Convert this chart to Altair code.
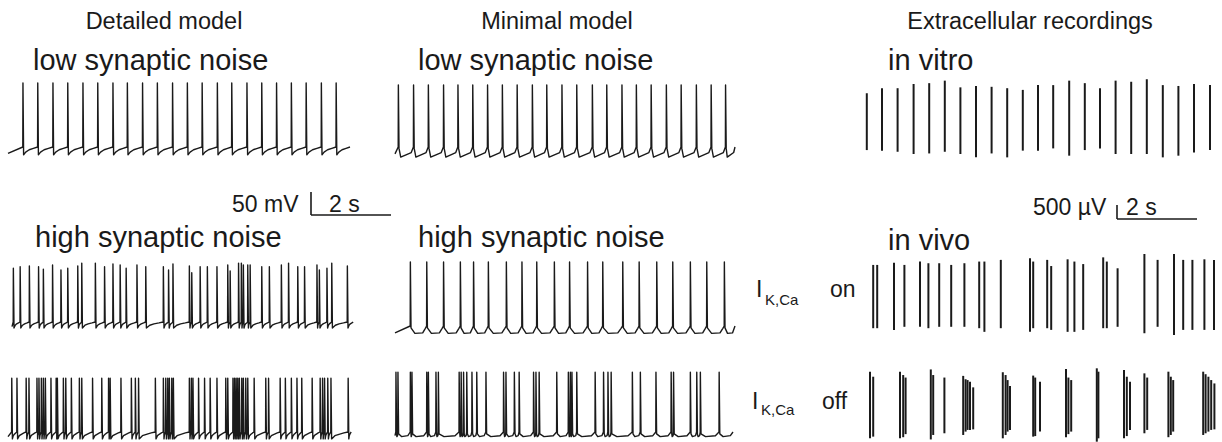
import altair as alt
import pandas as pd

W, H = 1222, 442
PX_PER_S = 40.0      # horizontal gain: 2 s bar = 80 px
PX_PER_MV = 0.46     # intracellular gain: 50 mV bar = 23 px
PX_PER_UV = 0.028    # extracellular gain: 500 uV bar = 14 px
INK = "#1a1a1a"
FONT = "Liberation Sans"

# ---------------- spike times (s from sweep start) and amplitudes ----------------
det_low_times = [0.37, 0.74, 1.12, 1.49, 1.87, 2.24, 2.62, 2.98, 3.36, 3.73, 4.11,
                 4.48, 4.85, 5.23, 5.59, 5.97, 6.34, 6.71, 7.08, 7.45, 7.83, 8.20]
min_low_times = [0.08, 0.46, 0.83, 1.21, 1.57, 1.94, 2.31, 2.68, 3.05, 3.43, 3.79, 4.17,
                 4.54, 4.93, 5.29, 5.67, 6.03, 6.40, 6.78, 7.15, 7.53, 7.90, 8.26]
det_high_times = [0.13, 0.30, 0.53, 0.76, 0.88, 1.11, 1.32, 1.49, 1.74, 1.84, 2.18, 2.41,
                  2.62, 2.80, 2.95, 3.22, 3.44, 3.88, 4.01, 4.12, 4.53, 4.59, 4.80, 4.98,
                  5.22, 5.49, 5.55, 5.76, 5.83, 5.88, 5.99, 6.05, 6.34, 6.53, 6.83, 7.01,
                  7.24, 7.41, 7.72, 7.78, 7.97, 8.09, 8.48]
det_high_peaks = [117, 120, 122, 120, 115, 124, 113, 117, 122, 128, 128, 120, 126, 124,
                  117, 124, 120, 120, 113, 126, 122, 107, 120, 120, 120, 124, 111, 128,
                  128, 124, 124, 124, 120, 120, 124, 128, 120, 120, 124, 113, 117, 128, 122]
min_high_times = [0.38, 0.79, 1.21, 1.63, 1.96, 2.33, 2.78, 3.17, 3.54, 3.98, 4.36, 4.81,
                  5.19, 5.69, 6.10, 6.54, 6.94, 7.38, 7.79, 8.23]
det_off_times = [0.09, 0.22, 0.45, 0.52, 0.72, 0.77, 0.83, 0.88, 0.93, 1.07, 1.20, 1.23,
                 1.38, 1.44, 1.58, 1.78, 1.84, 2.11, 2.34, 2.51, 2.55, 2.82, 3.08, 3.18,
                 3.26, 3.68, 3.88, 3.94, 3.99, 4.03, 4.09, 4.13, 4.53, 4.58, 4.62, 4.76,
                 4.91, 5.05, 5.22, 5.44, 5.49, 5.62, 5.66, 5.70, 5.74, 5.78, 5.84, 5.88,
                 5.94, 5.99, 6.15, 6.44, 6.51, 6.80, 6.93, 7.08, 7.22, 7.34, 7.60, 7.80,
                 7.86, 7.91, 7.99, 8.07, 8.50]
min_off_times = [0.02, 0.07, 0.38, 0.42, 0.79, 0.83, 1.02, 1.08, 1.60, 1.65, 1.71, 1.79,
                 1.92, 2.04, 2.27, 2.71, 2.77, 2.98, 3.10, 3.46, 3.52, 3.60, 4.04, 4.33,
                 4.38, 4.42, 4.54, 5.00, 5.21, 5.32, 5.40, 5.93, 6.13, 6.52, 6.90, 6.96,
                 7.38, 7.54, 7.63, 8.10]

vitro_times = [0.02, 0.40, 0.79, 1.19, 1.58, 1.97, 2.36, 2.75, 3.14, 3.53, 3.92, 4.30,
               4.68, 5.08, 5.47, 5.85, 6.24, 6.63, 7.02, 7.42, 7.81, 8.20, 8.60]
vitro_top = [920, 1100, 1100, 1250, 1280, 1370, 1130, 1180, 1150, 1100, 1040, 1210,
             1210, 1370, 1280, 1100, 1370, 1330, 1420, 1210, 1180, 1250, 1210]
vitro_bottom = [-1110, -1130, -1170, -1250, -1230, -1170, -1250, -1370, -1230, -1370,
                -1130, -1130, -1050, -1310, -1110, -1050, -1250, -1250, -1250, -1370,
                -1310, -1200, -1110]

vivo_on_times = [0.18, 0.28, 0.70, 0.96, 1.35, 1.56, 1.83, 2.13, 2.46, 2.83, 2.96, 3.37,
                 4.10, 4.18, 4.53, 4.63, 5.04, 5.21, 5.43, 5.93, 6.02, 6.29, 6.96, 7.29,
                 7.70, 7.93, 8.16, 8.46, 8.70]
vivo_on_top = [1110, 1110, 1190, 1110, 1230, 1170, 1170, 1110, 1170, 1230, 1230, 1290,
               1350, 1230, 1290, 1070, 1310, 1230, 1140, 1380, 1230, 990, 1500, 1290,
               1500, 1290, 1290, 1310, 1290]
vivo_on_bottom = [-1150, -1150, -1210, -1100, -1100, -1150, -1100, -1100, -1100, -1150,
                  -1280, -1150, -1280, -1150, -1150, -1210, -1280, -1280, -1210, -1150,
                  -1150, -1100, -1330, -1100, -1390, -1210, -1210, -1210, -1210]

vivo_off_times = [0.10, 0.18, 0.85, 0.93, 0.99, 1.62, 1.68, 1.96, 2.43, 2.49, 2.54, 2.60,
                  2.68, 3.42, 3.49, 3.54, 3.60, 4.18, 4.23, 4.35, 5.00, 5.06, 5.13, 5.77,
                  5.81, 6.45, 6.52, 6.60, 6.96, 7.03, 7.56, 7.62, 7.68, 8.43, 8.49, 8.56,
                  8.63, 8.71]
vivo_off_top = [1190, 1010, 1190, 1070, 980, 1270, 1070, 980, 1040, 920, 890, 830, 630,
                1170, 1070, 890, 680, 1050, 980, 830, 1290, 980, 890, 1310, 1190, 1250,
                1010, 830, 1130, 980, 1190, 1010, 890, 1190, 1100, 1010, 890, 770]
vivo_off_bottom = [-1190, -1130, -1190, -1150, -1040, -1230, -1070, -1010, -1070, -950,
                   -890, -890, -870, -1190, -1070, -950, -890, -1130, -1110, -950, -1150,
                   -1040, -950, -1310, -1190, -1190, -1110, -890, -1010, -890, -1150,
                   -1070, -950, -1070, -1010, -950, -890, -870]

# ---------------- layout (pixels) ----------------
COL_X = {"detailed": 8, "minimal": 395, "extracellular": 866}

# inter-spike trajectories: (fraction of the interval, mV relative to threshold)
DET_LOW_ISI = [(0.0, -17), (0.15, -11), (0.4, -6), (0.7, -3), (1.0, 0)]
DET_HIGH_ISI = [(0.0, -13), (0.2, -7), (0.45, -4), (0.75, -2), (1.0, 0)]
DET_OFF_ISI = [(0.0, -15), (0.2, -8), (0.45, -5), (0.75, -2), (1.0, 0)]
MIN_LOW_ISI = [(0.0, -3), (0.12, -22), (0.85, -12), (1.0, 0)]
MIN_HIGH_ISI = [(0.0, -4), (0.25, -16), (0.75, -15), (0.92, -5), (1.0, 0)]
MIN_OFF_ISI = [(0.0, -4), (0.25, -10), (0.8, -8), (1.0, 0)]

intra_sweeps = [
    # name, column, threshold row (px), times, peak(s) mV, start s, end s, start mV, ISI shape
    ("det_low", "detailed", 147, det_low_times, 139, 0.0, 8.55, -14, DET_LOW_ISI),
    ("min_low", "minimal", 147, min_low_times, 135, 0.0, 8.50, -15, MIN_LOW_ISI),
    ("det_high", "detailed", 322, det_high_times, det_high_peaks, 0.1, 8.63, -10, DET_HIGH_ISI),
    ("min_high", "minimal", 326, min_high_times, 139, 0.0, 8.50, -15, MIN_HIGH_ISI),
    ("det_off", "detailed", 432, det_off_times, 117, 0.0, 8.58, -10, DET_OFF_ISI),
    ("min_off", "minimal", 432, min_off_times, 130, 0.0, 8.45, -8, MIN_OFF_ISI),
]

extra_sweeps = [
    ("in_vitro", 119, vitro_times, vitro_top, vitro_bottom),
    ("in_vivo_on", 296, vivo_on_times, vivo_on_top, vivo_on_bottom),
    ("in_vivo_off", 405, vivo_off_times, vivo_off_top, vivo_off_bottom),
]


def sweep_points(times, peaks, start, end, start_level, isi, spike_w=0.02):
    pts = [(start, start_level)]
    for i, t in enumerate(times):
        peak = peaks[i] if isinstance(peaks, list) else peaks
        nxt = times[i + 1] if i + 1 < len(times) else end
        pts.append((t, 0.0))
        pts.append((t + 0.004, peak))
        a = min(t + spike_w, nxt)
        span = nxt - a
        for f, lvl in isi:
            pts.append((a + f * span, lvl))
    return pts


rows = []
for name, col, row_px, times, peaks, t0, t1, lvl0, isi in intra_sweeps:
    t_off = COL_X[col] / PX_PER_S
    v_off = (H - row_px) / PX_PER_MV
    for k, (t, v) in enumerate(sweep_points(times, peaks, t0, t1, lvl0, isi)):
        rows.append({"trace": name, "k": k, "t": t_off + t, "v": v_off + v})
intra_df = pd.DataFrame(rows)

rows = []
for name, row_px, times, top, bottom in extra_sweeps:
    t_off = COL_X["extracellular"] / PX_PER_S
    u_off = (H - row_px) / PX_PER_UV
    for t, a, b in zip(times, top, bottom):
        rows.append({"trace": name, "t": t_off + t, "u": u_off + a, "u2": u_off + b})
extra_df = pd.DataFrame(rows)

# scale bars: corner anchor in pixels, then 50 mV / 500 uV and 2 s
mv_bar_x, mv_bar_y = 311, 215
uv_bar_x, uv_bar_y = 1117, 219
bt, bv = mv_bar_x / PX_PER_S, (H - mv_bar_y) / PX_PER_MV
mv_bar = pd.DataFrame({"t": [bt, bt], "t2": [bt, bt + 2], "v": [bv, bv], "v2": [bv + 50, bv]})
ut, uu = uv_bar_x / PX_PER_S, (H - uv_bar_y) / PX_PER_UV
uv_bar = pd.DataFrame({"t": [ut, ut], "t2": [ut, ut + 2], "u": [uu, uu], "u2": [uu + 500, uu]})

x_scale = alt.Scale(domain=[0, W / PX_PER_S], nice=False, zero=False)
mv_scale = alt.Scale(domain=[0, H / PX_PER_MV], nice=False, zero=False)
uv_scale = alt.Scale(domain=[0, H / PX_PER_UV], nice=False, zero=False)

traces = alt.Chart(intra_df).mark_line(color=INK, strokeWidth=1.4, strokeJoin="round").encode(
    x=alt.X("t:Q", scale=x_scale, axis=None),
    y=alt.Y("v:Q", scale=mv_scale, axis=None),
    detail="trace:N",
    order="k:Q",
)
mv_bar_mark = alt.Chart(mv_bar).mark_rule(color=INK, strokeWidth=1.6).encode(
    x=alt.X("t:Q", scale=x_scale, axis=None), x2="t2:Q",
    y=alt.Y("v:Q", scale=mv_scale, axis=None), y2="v2:Q",
)
intra_layer = alt.layer(traces, mv_bar_mark)

units = alt.Chart(extra_df).mark_rule(color=INK, strokeWidth=2.0).encode(
    x=alt.X("t:Q", scale=x_scale, axis=None),
    y=alt.Y("u:Q", scale=uv_scale, axis=None), y2="u2:Q",
)
uv_bar_mark = alt.Chart(uv_bar).mark_rule(color=INK, strokeWidth=1.6).encode(
    x=alt.X("t:Q", scale=x_scale, axis=None), x2="t2:Q",
    y=alt.Y("u:Q", scale=uv_scale, axis=None), y2="u2:Q",
)
extra_layer = alt.layer(units, uv_bar_mark)

# text: (label, x px, baseline y px, size, align)
labels = [
    ("Detailed model", 164, 29, 23.5, "center"),
    ("Minimal model", 557, 29, 23.5, "center"),
    ("Extracellular recordings", 1030, 29, 23.5, "center"),
    ("low synaptic noise", 33, 70, 29, "left"),
    ("low synaptic noise", 418, 70, 29, "left"),
    ("in vitro", 888, 70, 29, "left"),
    ("50 mV", 232, 212, 23, "left"),
    ("2 s", 329, 212, 23, "left"),
    ("500 µV", 1033, 215, 23, "left"),
    ("2 s", 1126, 215, 23, "left"),
    ("high synaptic noise", 35, 247, 29, "left"),
    ("high synaptic noise", 418, 247, 29, "left"),
    ("in vivo", 888, 250, 29, "left"),
    ("I", 756, 297, 23, "left"),
    ("K,Ca", 765, 305, 15, "left"),
    ("on", 830, 297, 23, "left"),
    ("I", 752, 409, 23, "left"),
    ("K,Ca", 761, 415, 15, "left"),
    ("off", 822, 409, 23, "left"),
]
one_row = pd.DataFrame({"k": [0]})
text_marks = [
    alt.Chart(one_row).mark_text(font=FONT, fontSize=size, color=INK, align=align,
                                 baseline="alphabetic").encode(
        text=alt.value(txt), x=alt.value(px), y=alt.value(py))
    for txt, px, py, size, align in labels
]

chart = alt.layer(intra_layer, extra_layer, *text_marks).resolve_scale(y="independent").properties(
    width=W, height=H, autosize=alt.AutoSizeParams(type="none"), padding=0,
    background="white",
).configure_view(stroke=None)

chart.save("out.html", embed_options={"renderer": "svg", "actions": False})
